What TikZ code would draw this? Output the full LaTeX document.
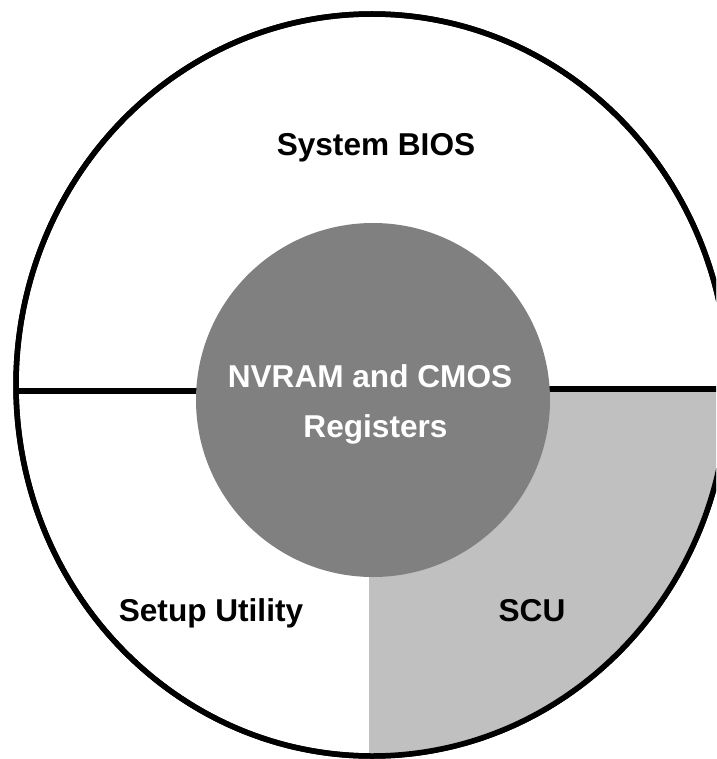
\documentclass[tikz,border=0pt]{standalone}
\usepackage{fontspec}
\setmainfont{Liberation Sans}
\usetikzlibrary{shapes.geometric}
\definecolor{corefill}{HTML}{808080}
\definecolor{scufill}{HTML}{C0C0C0}
\tikzset{
  ring/.style={ellipse, draw=black, line width=5.5pt, inner sep=0pt},
  divider/.style={draw=black, line width=6pt},
  corecircle/.style={circle, fill=corefill, inner sep=0pt, minimum size=354pt},
  label/.style={font=\bfseries\fontsize{31.6}{50}\selectfont, inner sep=0pt, anchor=base},
  corelabel/.style={label, text=white},
}
\begin{document}
\begin{tikzpicture}[x=1pt, y=-1pt]
  \useasboundingbox (0,0) rectangle (716,759);
  \clip (0,0) rectangle (716,759);
  \fill[white] (0,0) rectangle (716,759);

  % outer ring holding the three areas
  \node[ring, minimum width=712pt, minimum height=742pt] (outer) at (372,385) {};

  % lower right quadrant: SCU
  \begin{scope}
    \clip (372,385) ellipse [x radius=356pt, y radius=371pt];
    \fill[scufill] (369,391) rectangle (760,790);
  \end{scope}
  \node[ring, minimum width=712pt, minimum height=742pt] at (outer.center) {};

  % dividing lines
  \coordinate (leftend) at (15,391);
  \coordinate (leftin) at (230,391);
  \coordinate (rightin) at (520,388.5);
  \coordinate (rightend) at (730,388.5);
  \draw[divider] (leftend) -- (leftin);
  \draw[divider] (rightin) -- (rightend);

  % central NVRAM / CMOS circle
  \node[corecircle] (core) at (373,400) {};
  \node[corelabel] (nvram) at (370,387) {NVRAM and CMOS};
  \node[corelabel] (regs) at (375.5,437) {Registers};

  % area labels
  \node[label] (bios) at (376,156) {System BIOS};
  \node[label] (setup) at (211,621) {Setup Utility};
  \node[label] (scu) at (532,621) {SCU};
\end{tikzpicture}
\end{document}
